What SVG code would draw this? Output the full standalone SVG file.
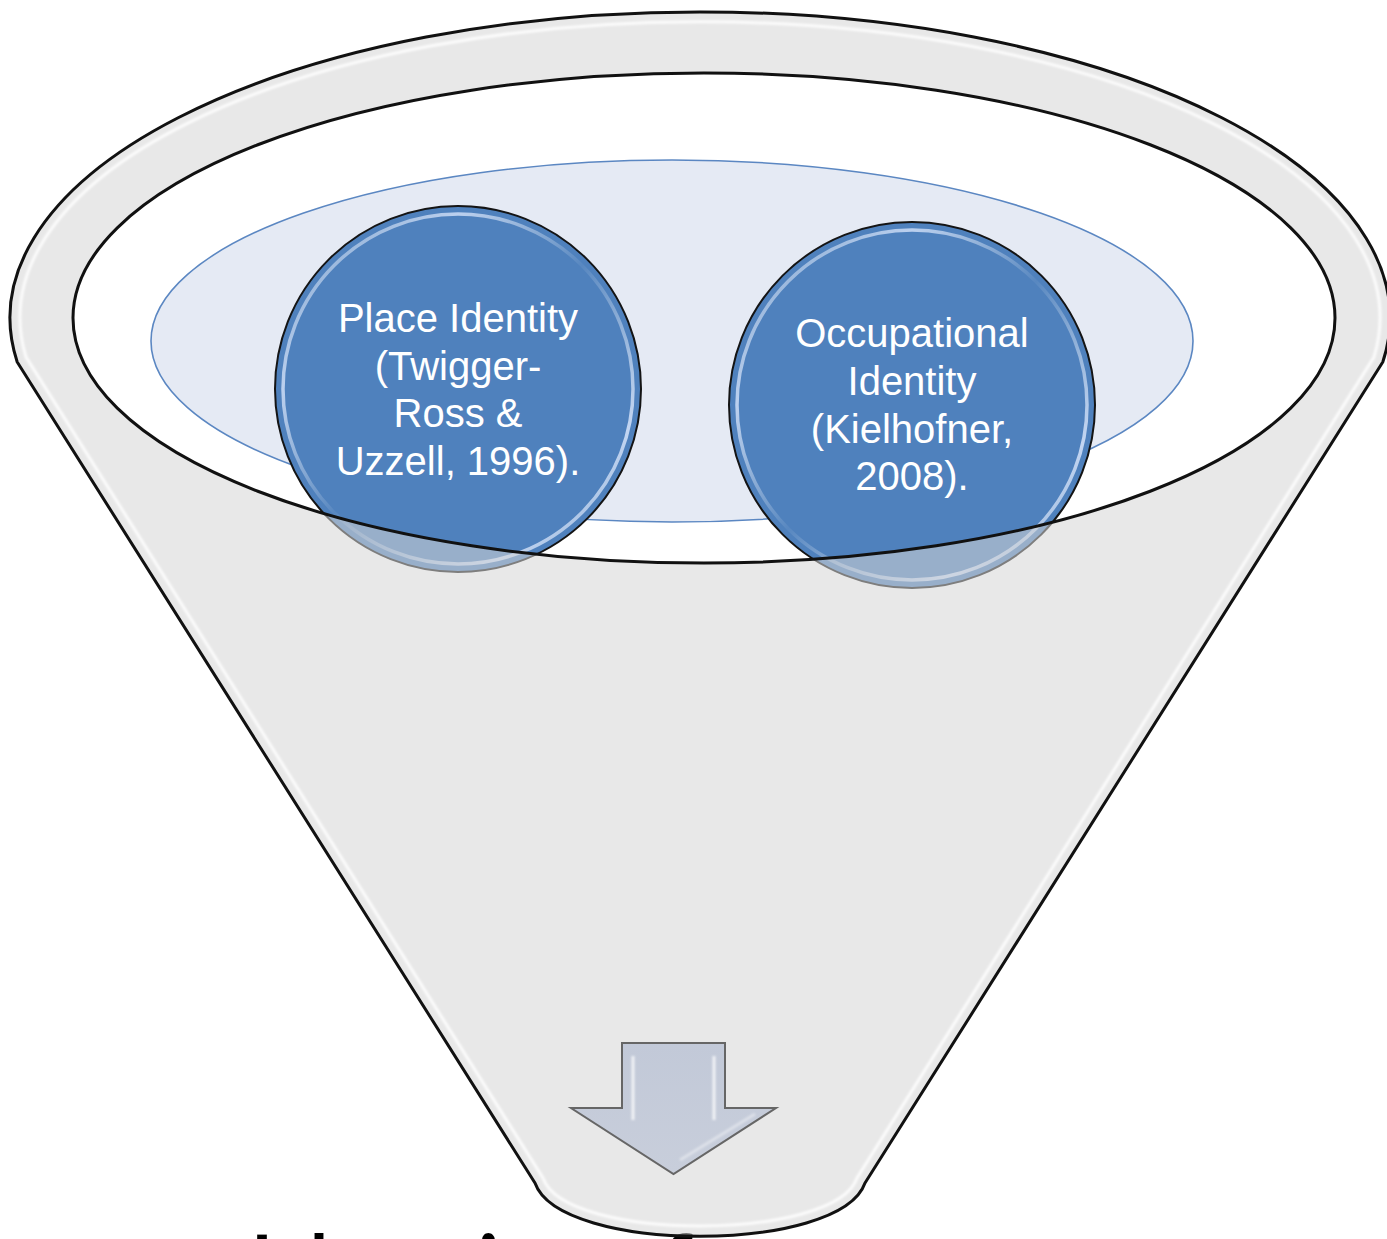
<svg xmlns="http://www.w3.org/2000/svg" width="1387" height="1239" viewBox="0 0 1387 1239">
<defs>
<style>
.outline{fill:none;stroke:#111;stroke-width:3;stroke-linejoin:round}
.front{fill:#d5d5d5;fill-opacity:0.55;fill-rule:evenodd;stroke:none}
.hl{fill:none;stroke:#fff;stroke-width:3;stroke-opacity:0.85}
.node{fill:#4f81bd;stroke:#141414;stroke-width:2}
.rim{fill:none;stroke:url(#rimGrad);stroke-width:3.5}
.lbl{font-family:"Liberation Sans",Arial,sans-serif;font-size:40px;fill:#fff;text-anchor:middle}
.big{font-family:Lato,"Liberation Sans",sans-serif;font-size:100px;fill:#000}
</style>
<linearGradient id="rimGrad" x1="0" y1="0" x2="1" y2="1">
<stop offset="0" stop-color="#fff" stop-opacity="0.15"/>
<stop offset="0.25" stop-color="#dfeaff" stop-opacity="0.75"/>
<stop offset="0.5" stop-color="#fff" stop-opacity="0.05"/>
<stop offset="0.8" stop-color="#dfeaff" stop-opacity="0.8"/>
<stop offset="1" stop-color="#fff" stop-opacity="0.2"/>
</linearGradient>
<linearGradient id="hlGrad" x1="0" y1="0" x2="0" y2="1">
<stop offset="0" stop-color="#fff" stop-opacity="0"/>
<stop offset="0.15" stop-color="#fff" stop-opacity="0.9"/>
<stop offset="1" stop-color="#fff" stop-opacity="0.9"/>
</linearGradient>
<linearGradient id="arrowGrad" x1="0" y1="0" x2="0" y2="1">
<stop offset="0" stop-color="#c2c9d8"/>
<stop offset="1" stop-color="#c8cedb"/>
</linearGradient>
<filter id="soft" x="-5%" y="-5%" width="110%" height="110%"><feGaussianBlur stdDeviation="0.8"/></filter>
</defs>

<rect x="0" y="0" width="1387" height="1239" fill="#fff"/>

<g id="caption">
<text class="big" y="1307"><tspan x="248">Identity</tspan><tspan x="603">of</tspan></text>
</g>

<g id="node-inner-ellipse">
<ellipse cx="672" cy="341" rx="521" ry="181" fill="#e5eaf4" stroke="#5b87c2" stroke-width="1.6"/>
</g>

<g id="node-place-identity">
<circle class="node" cx="458" cy="389" r="183"/>
<circle class="rim" cx="458" cy="389" r="175"/>
<text class="lbl" x="458"><tspan x="458" y="332">Place Identity</tspan><tspan x="458" y="380">(Twigger-</tspan><tspan x="458" y="427">Ross &amp;</tspan><tspan x="458" y="475">Uzzell, 1996).</tspan></text>
</g>

<g id="node-occupational-identity">
<circle class="node" cx="912" cy="405" r="183"/>
<circle class="rim" cx="912" cy="405" r="175"/>
<text class="lbl" x="912"><tspan x="912" y="347">Occupational</tspan><tspan x="912" y="395">Identity</tspan><tspan x="912" y="443">(Kielhofner,</tspan><tspan x="912" y="490">2008).</tspan></text>
</g>

<g id="funnel">
<path class="front" d="M 17.2,362 A 690 306 0 1 1 1382.8,362 L 865,1183 C 840,1254 560,1254 535,1183 Z M 73,318 A 631 245 0 1 0 1335,318 A 631 245 0 1 0 73,318 Z"/>
<path class="hl" stroke="url(#hlGrad)" filter="url(#soft)" d="M 543,1178 L 26,357 A 680 296 0 1 1 1374,357 L 857,1178 C 835,1242 565,1242 543,1178"/>
<path class="outline" d="M 17.2,362 A 690 306 0 1 1 1382.8,362 L 865,1183 C 840,1254 560,1254 535,1183 Z"/>
<ellipse class="outline" cx="704" cy="318" rx="631" ry="245"/>
</g>

<g id="connectors">
<g id="arrow-down">
<path d="M 622,1043 L 725,1043 L 725,1108 L 776,1108 L 673.5,1174 L 571,1108 L 622,1108 Z" fill="url(#arrowGrad)" stroke="#666" stroke-width="2" stroke-linejoin="miter"/>
<path d="M 633,1056 L 633,1120 M 714,1056 L 714,1120" stroke="#fff" stroke-opacity="0.75" stroke-width="3" fill="none" filter="url(#soft)"/>
<path d="M 680,1160 L 755,1114" stroke="#fff" stroke-opacity="0.4" stroke-width="3" fill="none" filter="url(#soft)"/>
</g>
</g>
</svg>
